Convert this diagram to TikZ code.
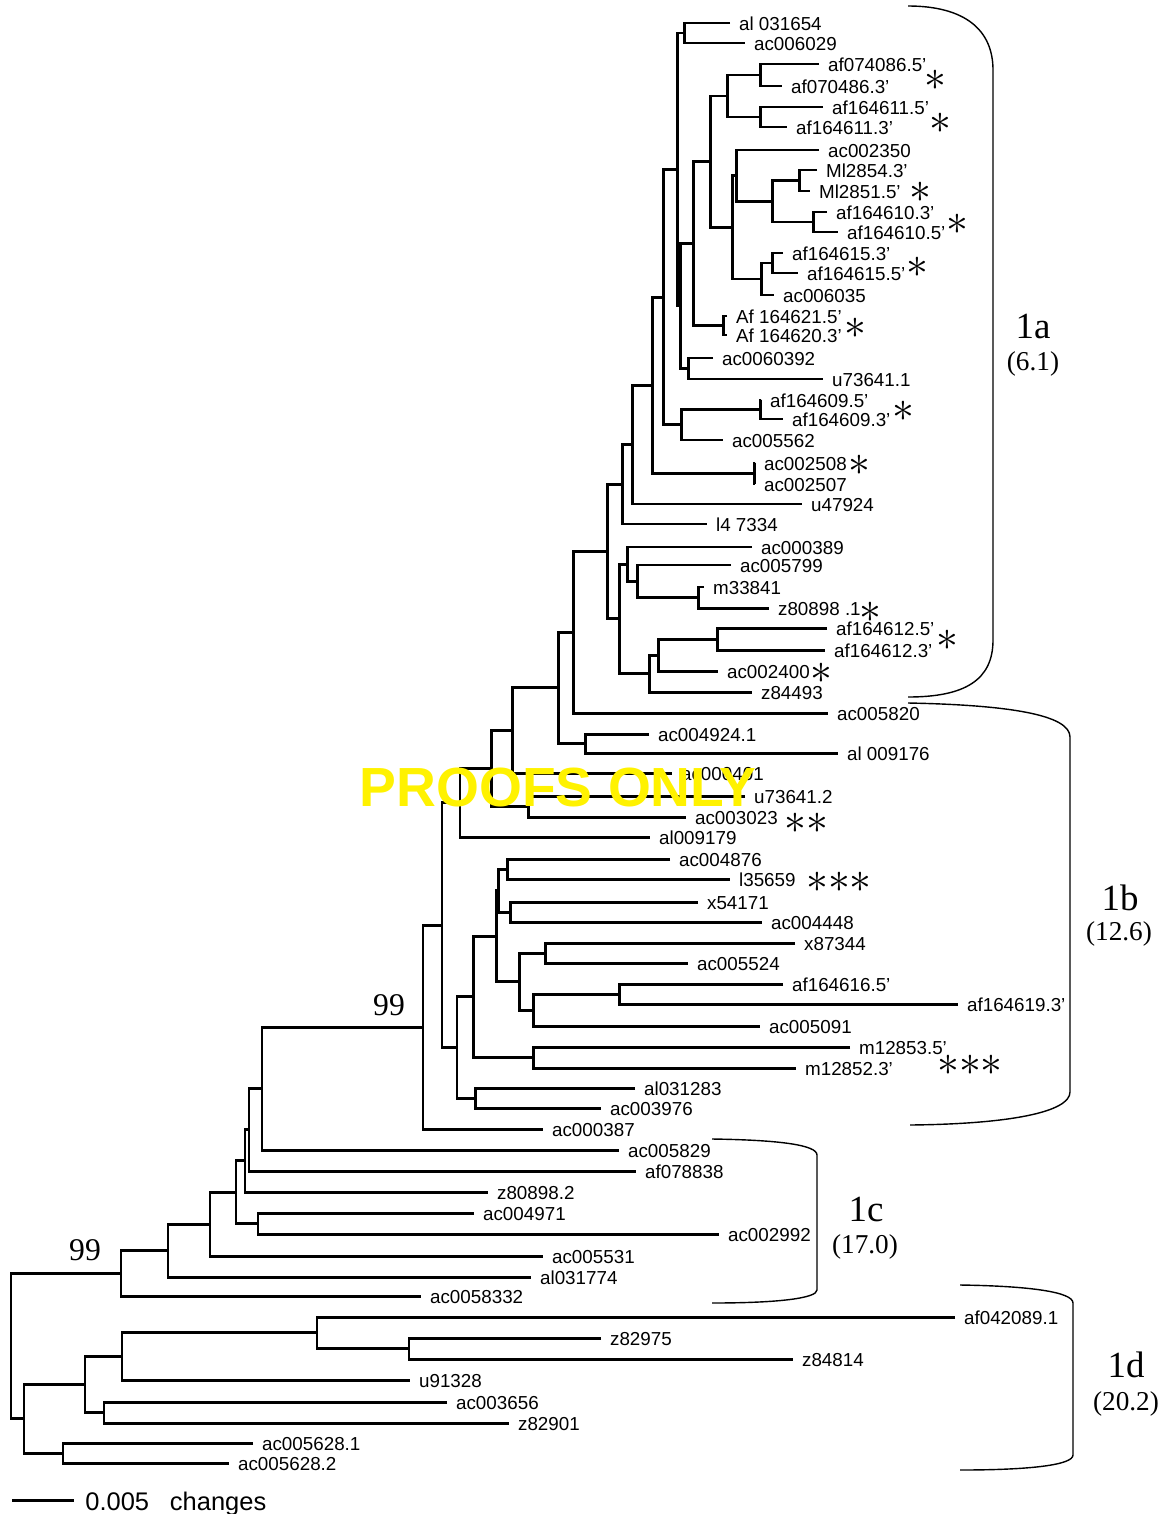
\documentclass[tikz,border=0pt]{standalone}
\usepackage{fontspec}
\setmainfont{Liberation Sans}
\newfontfamily\treeserif{Liberation Serif}
\usepackage{xcolor}
\definecolor{proofyellow}{RGB}{255,242,0}
\usetikzlibrary{calc}

\tikzset{
  branch/.style={line width=1.7pt},
  leaf/.style={anchor=west, inner xsep=5pt, inner ysep=0pt, text height=0.86em, text depth=0pt,
    font=\fontsize{10.7}{12}\selectfont},
  starmark/.style={inner sep=0pt, font=\fontsize{28}{28}\selectfont},
  bracket/.style={line width=0.8pt},
  grouplabel/.style={inner sep=0pt, font=\treeserif\fontsize{21}{21}\selectfont},
  groupvalue/.style={inner sep=0pt, font=\treeserif\fontsize{15.5}{16}\selectfont},
  bootstrap/.style={inner sep=0pt, font=\treeserif\fontsize{18}{18}\selectfont},
}

\begin{document}
\begin{tikzpicture}[x=0.02cm, y=-0.02cm]
    \useasboundingbox (0,0) rectangle (1166,1514);

    % Leaves: clade 1a
    \node[leaf] (al031654) at (730,23) {al 031654};
    \node[leaf] (ac006029) at (745,43) {ac006029};
    \node[leaf] (af074086p5) at (819,64) {af074086.5'};
    \node[leaf] (af070486p3) at (782,86) {af070486.3'};
    \node[leaf] (af164611p5) at (823,107) {af164611.5'};
    \node[leaf] (af164611p3) at (787,127) {af164611.3'};
    \node[leaf] (ac002350) at (819,150) {ac002350};
    \node[leaf] (m12854p3) at (817,170) {Ml2854.3'};
    \node[leaf] (m12851p5) at (810,191) {Ml2851.5'};
    \node[leaf] (af164610p3) at (827,212) {af164610.3'};
    \node[leaf] (af164610p5) at (838,232) {af164610.5'};
    \node[leaf] (af164615p3) at (783,253) {af164615.3'};
    \node[leaf] (af164615p5) at (798,273) {af164615.5'};
    \node[leaf] (ac006035) at (774,295) {ac006035};
    \node[leaf] (af164621p5) at (727,316) {Af 164621.5'};
    \node[leaf] (af164620p3) at (727,335) {Af 164620.3'};
    \node[leaf] (ac0060392) at (713,358) {ac0060392};
    \node[leaf] (u73641v1) at (823,379) {u73641.1};
    \node[leaf] (af164609p5) at (761,400) {af164609.5'};
    \node[leaf] (af164609p3) at (783,419) {af164609.3'};
    \node[leaf] (ac005562) at (723,440) {ac005562};
    \node[leaf] (ac002508) at (755,463) {ac002508};
    \node[leaf] (ac002507) at (755,484) {ac002507};
    \node[leaf] (u47924) at (802,504) {u47924};
    \node[leaf] (l47334) at (707,524) {l4 7334};
    \node[leaf] (ac000389) at (752,547) {ac000389};
    \node[leaf] (ac005799) at (731,565) {ac005799};
    \node[leaf] (m33841) at (704,587) {m33841};
    \node[leaf] (z80898v1) at (769,608) {z80898 .1};
    \node[leaf] (af164612p5) at (827,628) {af164612.5'};
    \node[leaf] (af164612p3) at (825,650) {af164612.3'};
    \node[leaf] (ac002400) at (718,671) {ac002400};
    \node[leaf] (z84493) at (752,692) {z84493};

    % Leaves: clade 1b
    \node[leaf] (ac005820) at (828,713) {ac005820};
    \node[leaf] (ac004924) at (649,734) {ac004924.1};
    \node[leaf] (al009176) at (838,753) {al 009176};
    \node[leaf] (ac000401) at (672,773) {ac000401};
    \node[leaf] (u73641v2) at (745,796) {u73641.2};
    \node[leaf] (ac003023) at (686,817) {ac003023};
    \node[leaf] (al009179) at (650,837) {al009179};
    \node[leaf] (ac004876) at (670,859) {ac004876};
    \node[leaf] (l35659) at (730,879) {l35659};
    \node[leaf] (x54171) at (698,902) {x54171};
    \node[leaf] (ac004448) at (762,922) {ac004448};
    \node[leaf] (x87344) at (795,943) {x87344};
    \node[leaf] (ac005524) at (688,963) {ac005524};
    \node[leaf] (af164616p5) at (783,984) {af164616.5'};
    \node[leaf] (af164619p3) at (958,1004) {af164619.3'};
    \node[leaf] (ac005091) at (760,1026) {ac005091};
    \node[leaf] (m12853p5) at (850,1047) {m12853.5'};
    \node[leaf] (m12852p3) at (796,1068) {m12852.3'};
    \node[leaf] (al031283) at (635,1088) {al031283};
    \node[leaf] (ac003976) at (601,1108) {ac003976};
    \node[leaf] (ac000387) at (543,1129) {ac000387};

    % Leaves: clade 1c
    \node[leaf] (ac005829) at (619,1150) {ac005829};
    \node[leaf] (af078838) at (636,1171) {af078838};
    \node[leaf] (z80898v2) at (488,1192) {z80898.2};
    \node[leaf] (ac004971) at (474,1213) {ac004971};
    \node[leaf] (ac002992) at (719,1234) {ac002992};
    \node[leaf] (ac005531) at (543,1256) {ac005531};
    \node[leaf] (al031774) at (531,1277) {al031774};
    \node[leaf] (ac0058332) at (421,1296) {ac0058332};

    % Leaves: clade 1d
    \node[leaf] (af042089) at (955,1317) {af042089.1};
    \node[leaf] (z82975) at (601,1338) {z82975};
    \node[leaf] (z84814) at (793,1359) {z84814};
    \node[leaf] (u91328) at (410,1380) {u91328};
    \node[leaf] (ac003656) at (447,1402) {ac003656};
    \node[leaf] (z82901) at (509,1423) {z82901};
    \node[leaf] (ac005628v1) at (253,1443) {ac005628.1};
    \node[leaf] (ac005628v2) at (229,1463) {ac005628.2};

    % Internal nodes
    \coordinate (n684) at (684,33);
    \coordinate (n760a) at (760,75);
    \coordinate (n760b) at (760,117);
    \coordinate (n727) at (727,96);
    \coordinate (n799) at (799,180.5);
    \coordinate (n813) at (813,222);
    \coordinate (n772) at (772,201.25);
    \coordinate (n736) at (736,175.6);
    \coordinate (n772b) at (772,263);
    \coordinate (n761) at (761,279);
    \coordinate (n732) at (732,227.3);
    \coordinate (n710) at (710,161.7);
    \coordinate (n723) at (723,325.5);
    \coordinate (n693) at (693,243.6);
    \coordinate (n688) at (688,368.5);
    \coordinate (n680) at (680,306);
    \coordinate (n677) at (677,169.5);
    \coordinate (n760c) at (760,409.5);
    \coordinate (n681) at (681,424.75);
    \coordinate (n663) at (663,297.1);
    \coordinate (n754) at (754,473.5);
    \coordinate (n652) at (652,385.3);
    \coordinate (n632) at (632,444.65);
    \coordinate (n622) at (622,484.3);
    \coordinate (n698) at (698,597.5);
    \coordinate (n637) at (637,581.25);
    \coordinate (n627) at (627,564.1);
    \coordinate (n717) at (717,639);
    \coordinate (n658) at (658,655);
    \coordinate (n649) at (649,673.5);
    \coordinate (n619) at (619,618.8);
    \coordinate (n607) at (607,551.55);
    \coordinate (n573) at (573,632.3);
    \coordinate (n585) at (585,743.5);
    \coordinate (n558) at (558,687.9);
    \coordinate (n512) at (512,730.45);
    \coordinate (n528) at (528,806.5);
    \coordinate (n491) at (491,768.5);
    \coordinate (n460) at (460,802.75);
    \coordinate (n507) at (507,869);
    \coordinate (n510) at (510,912);
    \coordinate (n498) at (498,890.5);
    \coordinate (n545) at (545,953);
    \coordinate (n619b) at (619,994);
    \coordinate (n533b) at (533,1010);
    \coordinate (n519) at (519,981.5);
    \coordinate (n496) at (496,936);
    \coordinate (n533) at (533,1057.5);
    \coordinate (n473) at (473,996.75);
    \coordinate (n475) at (475,1098);
    \coordinate (n457) at (457,1047.4);
    \coordinate (n442) at (442,925.1);
    \coordinate (n423) at (423,1027);
    \coordinate (n262) at (262,1088.5);
    \coordinate (n249) at (249,1129.75);
    \coordinate (n245) at (245,1160.9);
    \coordinate (n258) at (258,1223.5);
    \coordinate (n236) at (236,1192.2);
    \coordinate (n210) at (210,1224.1);
    \coordinate (n168) at (168,1250.55);
    \coordinate (n121) at (121,1273.3);
    \coordinate (n409) at (409,1348.5);
    \coordinate (n317) at (317,1332.75);
    \coordinate (n122) at (122,1356.4);
    \coordinate (n104) at (104,1412.5);
    \coordinate (n85) at (85,1384.45);
    \coordinate (n63) at (63,1453);
    \coordinate (n24) at (24,1418.7);
    \coordinate (n11) at (11,1346);

    % Branches
    \draw[branch] (al031654.west) -| (n684) |- (ac006029.west);
    \draw[branch] (af074086p5.west) -| (n760a) |- (af070486p3.west);
    \draw[branch] (af164611p5.west) -| (n760b) |- (af164611p3.west);
    \draw[branch] (n760a) -| (n727) |- (n760b);
    \draw[branch] (m12854p3.west) -| (n799) |- (m12851p5.west);
    \draw[branch] (af164610p3.west) -| (n813) |- (af164610p5.west);
    \draw[branch] (n799) -| (n772) |- (n813);
    \draw[branch] (ac002350.west) -| (n736) |- (n772);
    \draw[branch] (af164615p3.west) -| (n772b) |- (af164615p5.west);
    \draw[branch] (n772b) -| (n761) |- (ac006035.west);
    \draw[branch] (n736) -| (n732) |- (n761);
    \draw[branch] (n727) -| (n710) |- (n732);
    \draw[branch] (af164621p5.west) -| (n723) |- (af164620p3.west);
    \draw[branch] (n710) -| (n693) |- (n723);
    \draw[branch] (ac0060392.west) -| (n688) |- (u73641v1.west);
    \draw[branch] (n693) -| (n680) |- (n688);
    \draw[branch] (n684) -| (n677) |- (n680);
    \draw[branch] (af164609p5.west) -| (n760c) |- (af164609p3.west);
    \draw[branch] (n760c) -| (n681) |- (ac005562.west);
    \draw[branch] (n677) -| (n663) |- (n681);
    \draw[branch] (ac002508.west) -| (n754) |- (ac002507.west);
    \draw[branch] (n663) -| (n652) |- (n754);
    \draw[branch] (n652) -| (n632) |- (u47924.west);
    \draw[branch] (n632) -| (n622) |- (l47334.west);
    \draw[branch] (m33841.west) -| (n698) |- (z80898v1.west);
    \draw[branch] (ac005799.west) -| (n637) |- (n698);
    \draw[branch] (ac000389.west) -| (n627) |- (n637);
    \draw[branch] (af164612p5.west) -| (n717) |- (af164612p3.west);
    \draw[branch] (n717) -| (n658) |- (ac002400.west);
    \draw[branch] (n658) -| (n649) |- (z84493.west);
    \draw[branch] (n627) -| (n619) |- (n649);
    \draw[branch] (n622) -| (n607) |- (n619);
    \draw[branch] (n607) -| (n573) |- (ac005820.west);
    \draw[branch] (ac004924.west) -| (n585) |- (al009176.west);
    \draw[branch] (n573) -| (n558) |- (n585);
    \draw[branch] (n558) -| (n512) |- (ac000401.west);
    \draw[branch] (u73641v2.west) -| (n528) |- (ac003023.west);
    \draw[branch] (n512) -| (n491) |- (n528);
    \draw[branch] (n491) -| (n460) |- (al009179.west);
    \draw[branch] (ac004876.west) -| (n507) |- (l35659.west);
    \draw[branch] (x54171.west) -| (n510) |- (ac004448.west);
    \draw[branch] (n507) -| (n498) |- (n510);
    \draw[branch] (x87344.west) -| (n545) |- (ac005524.west);
    \draw[branch] (af164616p5.west) -| (n619b) |- (af164619p3.west);
    \draw[branch] (n619b) -| (n533b) |- (ac005091.west);
    \draw[branch] (n545) -| (n519) |- (n533b);
    \draw[branch] (n498) -| (n496) |- (n519);
    \draw[branch] (m12853p5.west) -| (n533) |- (m12852p3.west);
    \draw[branch] (n496) -| (n473) |- (n533);
    \draw[branch] (al031283.west) -| (n475) |- (ac003976.west);
    \draw[branch] (n473) -| (n457) |- (n475);
    \draw[branch] (n460) -| (n442) |- (n457);
    \draw[branch] (n442) -| (n423) |- (ac000387.west);
    \draw[branch] (n423) -| (n262) |- (ac005829.west);
    \draw[branch] (n262) -| (n249) |- (af078838.west);
    \draw[branch] (n249) -| (n245) |- (z80898v2.west);
    \draw[branch] (ac004971.west) -| (n258) |- (ac002992.west);
    \draw[branch] (n245) -| (n236) |- (n258);
    \draw[branch] (n236) -| (n210) |- (ac005531.west);
    \draw[branch] (n210) -| (n168) |- (al031774.west);
    \draw[branch] (n168) -| (n121) |- (ac0058332.west);
    \draw[branch] (z82975.west) -| (n409) |- (z84814.west);
    \draw[branch] (af042089.west) -| (n317) |- (n409);
    \draw[branch] (n317) -| (n122) |- (u91328.west);
    \draw[branch] (ac003656.west) -| (n104) |- (z82901.west);
    \draw[branch] (n122) -| (n85) |- (n104);
    \draw[branch] (ac005628v1.west) -| (n63) |- (ac005628v2.west);
    \draw[branch] (n85) -| (n24) |- (n63);
    \draw[branch] (n121) -| (n11) |- (n24);

    % Bootstrap values
    \node[bootstrap] (bs423) at (389,1005) {99};
    \node[bootstrap] (bs121) at (85,1250) {99};

    % Asterisks
    \node[starmark] (st1) at (935,80) {$\ast$};
    \node[starmark] (st2) at (940,123) {$\ast$};
    \node[starmark] (st3) at (920,192) {$\ast$};
    \node[starmark] (st4) at (957,224) {$\ast$};
    \node[starmark] (st5) at (917,267) {$\ast$};
    \node[starmark] (st6) at (855,328) {$\ast$};
    \node[starmark] (st7) at (903,411) {$\ast$};
    \node[starmark] (st8) at (859,465) {$\ast$};
    \node[starmark] (st9) at (870,612) {$\ast$};
    \node[starmark] (st10) at (947,640) {$\ast$};
    \node[starmark] (st11) at (821,673) {$\ast$};
    \node[starmark] (st12) at (806,823) {${\ast}{\ast}$};
    \node[starmark] (st13) at (839,882) {${\ast}{\ast}{\ast}$};
    \node[starmark] (st14) at (970,1065) {${\ast}{\ast}{\ast}$};

    % Clade brackets
    \draw[bracket] (908,6) .. controls (965,6) and (993,30) .. (993,70) -- (993,640)
        .. controls (993,680) and (965,697) .. (908,697);
    \draw[bracket] (908,703) .. controls (1010,705) and (1070,715) .. (1070,737) -- (1070,1092)
        .. controls (1070,1112) and (1010,1124) .. (910,1125);
    \draw[bracket] (712,1139) .. controls (780,1140) and (817,1145) .. (817,1155) -- (817,1290)
        .. controls (817,1298) and (780,1303) .. (712,1303);
    \draw[bracket] (960,1285) .. controls (1030,1286) and (1073,1292) .. (1073,1303) -- (1073,1455)
        .. controls (1073,1465) and (1030,1470) .. (960,1470);

    % Clade labels
    \node[grouplabel] (g1a) at (1033,326) {1a};
    \node[groupvalue] (v1a) at (1033,364) {(6.1)};
    \node[grouplabel] (g1b) at (1120,898) {1b};
    \node[groupvalue] (v1b) at (1119,934) {(12.6)};
    \node[grouplabel] (g1c) at (866,1209) {1c};
    \node[groupvalue] (v1c) at (865,1247) {(17.0)};
    \node[grouplabel] (g1d) at (1126,1365) {1d};
    \node[groupvalue] (v1d) at (1126,1404) {(20.2)};

    % Scale bar
    \coordinate (bar0) at (12,1500);
    \coordinate (bar1) at (74,1500);
    \draw[branch] (bar0) -- (bar1);
    \node[anchor=base west, inner sep=0pt, font=\fontsize{14.5}{15}\selectfont] (barlabel) at (85,1510) {0.005\hspace{0.82em}changes};

    % Watermark
    \node[inner sep=0pt, text=proofyellow, font=\bfseries\fontsize{31.4}{32}\selectfont] (proof) at (558,788) {PROOFS ONLY};
\end{tikzpicture}
\end{document}
